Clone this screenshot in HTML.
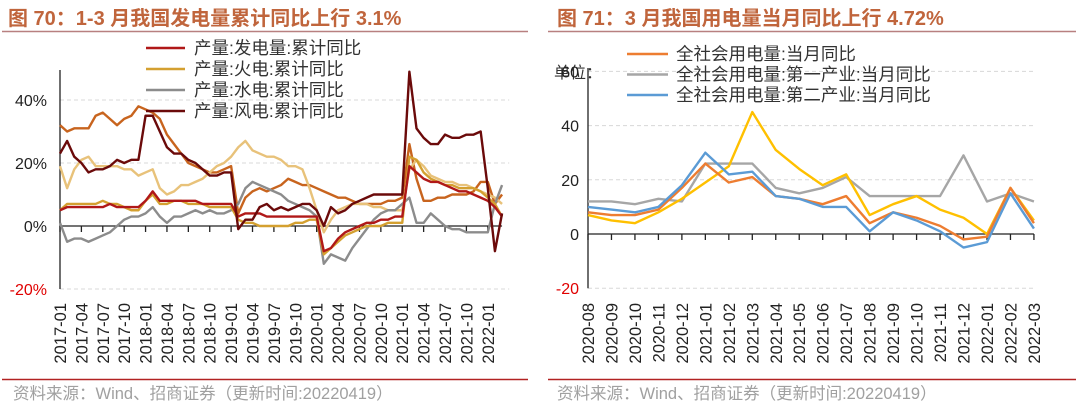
<!DOCTYPE html>
<html><head><meta charset="utf-8"><style>
html,body{margin:0;padding:0;background:#fff;width:1080px;height:408px;overflow:hidden}
svg{display:block;font-family:"Liberation Sans","Noto Sans CJK SC",sans-serif}
</style></head><body>
<svg id="svg" width="1080" height="408" viewBox="0 0 1080 408">
<text x="8" y="25" font-size="20" font-weight="bold" fill="#C0653C">图 70：1-3 月我国发电量累计同比上行 3.1%</text>
<line x1="2" y1="31.5" x2="528" y2="31.5" stroke="#B88080" stroke-width="1.5"/>
<text x="557" y="25" font-size="20" font-weight="bold" fill="#C0653C">图 71：3 月我国用电量当月同比上行 4.72%</text>
<line x1="548" y1="31.5" x2="1076" y2="31.5" stroke="#B88080" stroke-width="1.5"/>
<line x1="2" y1="379.5" x2="528" y2="379.5" stroke="#B22222" stroke-width="1.5"/>
<line x1="548" y1="379.5" x2="1076" y2="379.5" stroke="#B22222" stroke-width="1.5"/>
<text x="13" y="399" font-size="16.5" fill="#A0A0A0">资料来源：Wind、招商证券（更新时间:20220419）</text>
<text x="557" y="399" font-size="16.5" fill="#A0A0A0">资料来源：Wind、招商证券（更新时间:20220419）</text>
<g id="left"></g><g id="right"></g>
</svg>
<script>
// ---- Left chart data ----
const leftStart = [2017, 1];
const leftTicks = [-20, 0, 20, 40];
const genTotal = [5,6,6,6,6,6,6,7,6,6,6,6, 8,11,8,8,8,8,8,8,7,7,7,7, 7,3,4,4,4,3,3,3,3,3,3,3, 3,-8,-7,-4,-2,-1,0,1,1,2,2,3, 3,19,17,15,14,14,13,12,11,11,10,9, 8,6,3];
const thermal = [5,7,7,7,7,7,8,7,7,6,5,5, 8,10,7,7,8,8,7,7,7,6,6,6, 6,2,1,1,0,0,0,0,0,1,1,2, 2,-9,-7,-5,-3,-2,-1,0,0,0,1,1, 1,22,21,17,15,14,13,13,12,12,12,11, 9,7,3];
const hydro = [1,-5,-4,-4,-5,-4,-3,-2,0,2,3,3, 4,6,3,1,3,3,4,5,4,5,4,4, 5,7,12,14,13,12,11,10,8,7,6,5, 3,-12,-9,-10,-11,-7,-4,-1,2,4,5,5, 7,9,1,1,4,2,0,-1,-1,-2,-2,-2, -2,7,13];
const wind = [23,27,22,20,17,18,18,19,21,20,21,21, 35,35,30,25,23,23,21,20,18,16,16,17, 17,-1,2,2,6,7,5,6,5,6,7,7, 5,0,6,4,5,7,8,9,10,10,10,10, 10,49,31,28,26,26,29,28,28,29,29,30, 12,-8,4];
const nuclear = [32,30,31,31,31,35,36,34,32,34,35,38, 37,36,34,29,26,23,20,19,18,17,17,18, 19,4,9,11,12,11,12,13,15,14,13,13, 12,11,10,9,9,8,7,7,7,7,8,8, 9,26,15,8,8,9,9,10,10,10,11,14, 14,7,10];
const solar = [19,12,18,21,22,19,19,19,19,18,18,16, 17,18,12,10,11,13,13,14,15,17,19,20, 22,25,27,24,23,22,22,21,19,19,18,12, 5,-2,2,5,6,7,7,7,6,6,5,5, 5,18,21,19,16,15,14,14,13,13,12,11, 10,9,7];
const leftLegend = ["产量:发电量:累计同比","产量:火电:累计同比","产量:水电:累计同比","产量:风电:累计同比"];
// ---- Right chart data ----
const rightCats = ["2020-08","2020-09","2020-10","2020-11","2020-12","2021-01","2021-02","2021-03","2021-04","2021-05","2021-06","2021-07","2021-08","2021-09","2021-10","2021-11","2021-12","2022-01","2022-02","2022-03"];
const rightTicks = [-20, 0, 20, 40, 60];
const useTotal = [8,7,7,9,17,26,19,21,14,13,11,14,4,8,6,3,-2,-1,17,4];
const usePrimary = [12,12,11,13,12,26,26,26,17,15,17,21,14,14,14,14,29,12,15,12];
const useSecondary = [10,9,8,10,18,30,22,23,14,13,10,10,1,8,5,1,-5,-3,15,2];
const useTertiary = [7,5,4,8,13,19,25,45,31,24,18,22,7,11,14,9,6,0,17,5];
const rightLegend = ["全社会用电量:当月同比","全社会用电量:第一产业:当月同比","全社会用电量:第二产业:当月同比"];

const NS = "http://www.w3.org/2000/svg";
function mk(parent, tag, attrs, text){
  const e = document.createElementNS(NS, tag);
  for (const k in attrs) e.setAttribute(k, attrs[k]);
  if (text !== undefined) e.textContent = text;
  parent.appendChild(e); return e;
}

// Left chart
(function(){
  const g = document.getElementById('left');
  const x0 = 60, step = 7.13;
  const xL = i => x0 + i * step;
  const yL = v => 226 - v * 3.15;
  const n = genTotal.length;
  leftTicks.forEach(t => {
    if (t !== 0) {
      const gl = mk(g,'line',{x1:x0,x2:x0+n*step,y1:yL(t),y2:yL(t),stroke:'#D8D8D8','stroke-dasharray':'4,3'});
      
      
    }
    const tl = mk(g,'text',{x:47,y:yL(t)+6,'font-size':16,'text-anchor':'end',fill:t<0?'#E00000':'#222'}, t+'%');
    
    
  });
  const ya = mk(g,'line',{x1:x0,x2:x0,y1:70,y2:yL(-20),stroke:'#222','stroke-width':1.3});
  
  
  const xa = mk(g,'line',{x1:x0,x2:xL(n-1),y1:yL(0),y2:yL(0),stroke:'#222','stroke-width':1.3});
  
  
  for (let i = 0; i < n; i += 3) {
    const tk = mk(g,'line',{x1:xL(i),x2:xL(i),y1:yL(0),y2:yL(0)+6,stroke:'#222','stroke-width':1.3});
    
    
    const yr = leftStart[0] + Math.floor((leftStart[1]-1+i)/12);
    const mo = (leftStart[1]-1+i)%12 + 1;
    const lab = yr + '-' + String(mo).padStart(2,'0');
    const tx = mk(g,'text',{x:0,y:0,'font-size':16.5,'text-anchor':'end',fill:'#222',transform:`translate(${xL(i)+6},303) rotate(-90)`}, lab);
    
    
  }
  const series = [
    [nuclear,'#C8641E','nuclear-line'],
    [solar,'#E8C27A','solar-line'],
    [hydro,'#8C8C8C','hydro-line'],
    [thermal,'#D4A030','thermal-line'],
    [genTotal,'#B01818','generation-total-line'],
    [wind,'#6B0A0A','wind-line']
  ];
  series.forEach(([d,c,nm]) => {
    const p = mk(g,'polyline',{points:d.map((v,i)=>xL(i)+','+yL(v)).join(' '),fill:'none',stroke:c,'stroke-width':2.4,'stroke-linejoin':'round'});
    
    
  });
  const lc = ['#B01818','#D4A030','#8C8C8C','#6B0A0A'];
  leftLegend.forEach((t,i) => {
    const y = 48 + i*21;
    const l = mk(g,'line',{x1:146,x2:185,y1:y,y2:y,stroke:lc[i],'stroke-width':2.6});
    
    
    const tt = mk(g,'text',{x:194,y:y+6,'font-size':17.5,fill:'#333'}, t);
    
    
  });
})();

// Right chart
(function(){
  const g = document.getElementById('right');
  const x0 = 588, step = 23.47;
  const xR = i => x0 + i * step;
  const yR = v => 234 - v * 2.71;
  const n = rightCats.length;
  const u = mk(g,'text',{x:554,y:78,'font-size':16,fill:'#333'}, '单位：');
  
  
  rightTicks.forEach(t => {
    if (t !== 0) {
      const gl = mk(g,'line',{x1:x0,x2:1034,y1:yR(t),y2:yR(t),stroke:'#D8D8D8','stroke-dasharray':'4,3'});
      
      
    }
    const tl = mk(g,'text',{x:579,y:yR(t)+6,'font-size':16,'text-anchor':'end',fill:t<0?'#E00000':'#222'}, String(t));
    
    
  });
  const ya = mk(g,'line',{x1:x0,x2:x0,y1:68,y2:yR(-20),stroke:'#222','stroke-width':1.3});
  
  
  const xa = mk(g,'line',{x1:x0,x2:xR(n-1),y1:yR(0),y2:yR(0),stroke:'#222','stroke-width':1.3});
  
  
  rightCats.forEach((c,i) => {
    const tk = mk(g,'line',{x1:xR(i),x2:xR(i),y1:yR(0),y2:yR(0)+6,stroke:'#222','stroke-width':1.3});
    
    
    const tx = mk(g,'text',{x:0,y:0,'font-size':16.5,'text-anchor':'end',fill:'#222',transform:`translate(${xR(i)+6},303) rotate(-90)`}, c);
    
    
  });
  const series = [
    [usePrimary,'#A6A6A6','primary-industry-line'],
    [useTertiary,'#FFC000','tertiary-industry-line'],
    [useTotal,'#ED7D31','total-consumption-line'],
    [useSecondary,'#5B9BD5','secondary-industry-line']
  ];
  series.forEach(([d,c,nm]) => {
    const p = mk(g,'polyline',{points:d.map((v,i)=>xR(i)+','+yR(v)).join(' '),fill:'none',stroke:c,'stroke-width':2.4,'stroke-linejoin':'round'});
    
    
  });
  const lc = ['#ED7D31','#A6A6A6','#5B9BD5'];
  rightLegend.forEach((t,i) => {
    const y = 54 + i*20.5;
    const l = mk(g,'line',{x1:627,x2:668,y1:y,y2:y,stroke:lc[i],'stroke-width':2.6});
    
    
    const tt = mk(g,'text',{x:676,y:y+6,'font-size':17.5,fill:'#333'}, t);
    
    
  });
})();
</script>
</body></html>
